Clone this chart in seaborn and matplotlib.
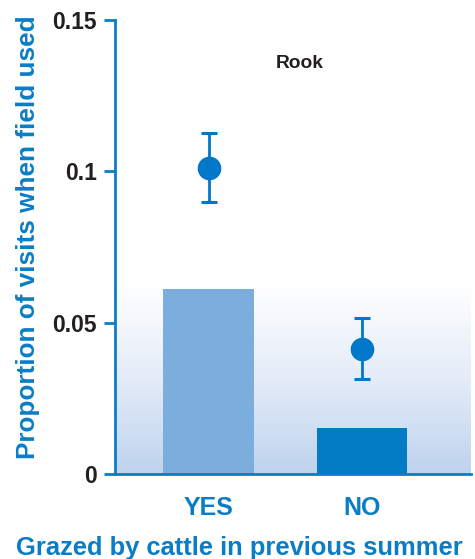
import numpy as np
import matplotlib
matplotlib.use("Agg")
import matplotlib.pyplot as plt
import seaborn as sns
import pandas as pd
from matplotlib.colors import LinearSegmentedColormap

# Availability (bars) and observed use (points with error bars) for rooks
categories = ["YES", "NO"]
availability = [0.0611, 0.0152]
use_mean = [0.1012, 0.0412]
use_low = [0.0900, 0.0313]
use_high = [0.1128, 0.0516]
yticks = [0, 0.05, 0.1, 0.15]
ytick_labels = ["0", "0.05", "0.1", "0.15"]

BLUE = "#0A7DC6"
BAR_COLORS = ["#7BAEDD", "#047CC5"]
DARK = "#231F20"

sns.set_theme(style="white")
plt.rcParams["font.family"] = ["Liberation Sans", "DejaVu Sans"]

fig = plt.figure(figsize=(4.75, 5.59), dpi=100)
ax = fig.add_axes([115 / 475, 1 - 474 / 559, (471 - 115) / 475, (474 - 20) / 559])

df = pd.DataFrame({"grazed": categories, "availability": availability})
sns.barplot(data=df, x="grazed", y="availability", hue="grazed",
            palette=BAR_COLORS, width=0.59, saturation=1, legend=False,
            ax=ax, zorder=2, linewidth=0)

x = np.arange(len(categories))
yerr = [np.array(use_mean) - np.array(use_low), np.array(use_high) - np.array(use_mean)]
ax.errorbar(x, use_mean, yerr=yerr, fmt="o", color="#0077C8", ms=16,
            elinewidth=2, capsize=5.8, capthick=2.2, zorder=4)

# soft blue wash in the lower part of the panel
grad = LinearSegmentedColormap.from_list("wash", ["#BFD3EE", "#E4ECF8", "#FFFFFF"])
vals = np.linspace(0, 1, 256).reshape(-1, 1)
ax.imshow(vals, cmap=grad, origin="lower", aspect="auto",
          extent=(-0.61, 1.71, 0, 0.063), zorder=0, interpolation="bicubic")
ax.set_xlim(-0.61, 1.71)
ax.set_ylim(0, 0.15)

ax.set_yticks(yticks)
ax.set_yticklabels(ytick_labels, fontsize=16.5, fontweight="bold", color=DARK)
ax.tick_params(axis="y", length=8, width=2, color=BLUE, pad=5, left=True)
ax.tick_params(axis="x", length=0, pad=16)
for lbl in ax.get_xticklabels():
    lbl.set_fontsize(18)
    lbl.set_fontweight("bold")
    lbl.set_color(BLUE)

for side in ["top", "right"]:
    ax.spines[side].set_visible(False)
for side in ["left", "bottom"]:
    ax.spines[side].set_color(BLUE)
    ax.spines[side].set_linewidth(2)

ax.set_xlabel("Grazed by cattle in previous summer", fontsize=18.4,
              fontweight="bold", color=BLUE)
ax.set_ylabel("Proportion of visits when field used", fontsize=18.8,
              fontweight="bold", color=BLUE)
ax.xaxis.set_label_coords((239 - 115) / 356, (474 - 536.5) / 454)
ax.yaxis.set_label_coords((40.5 - 115) / 356, (474 - 237.5) / 454)

ax.text(0.52, 0.905, "Rook", transform=ax.transAxes, fontsize=13.8,
        fontweight="bold", color=DARK, ha="center", va="center")

fig.savefig("out.png", dpi=100)
